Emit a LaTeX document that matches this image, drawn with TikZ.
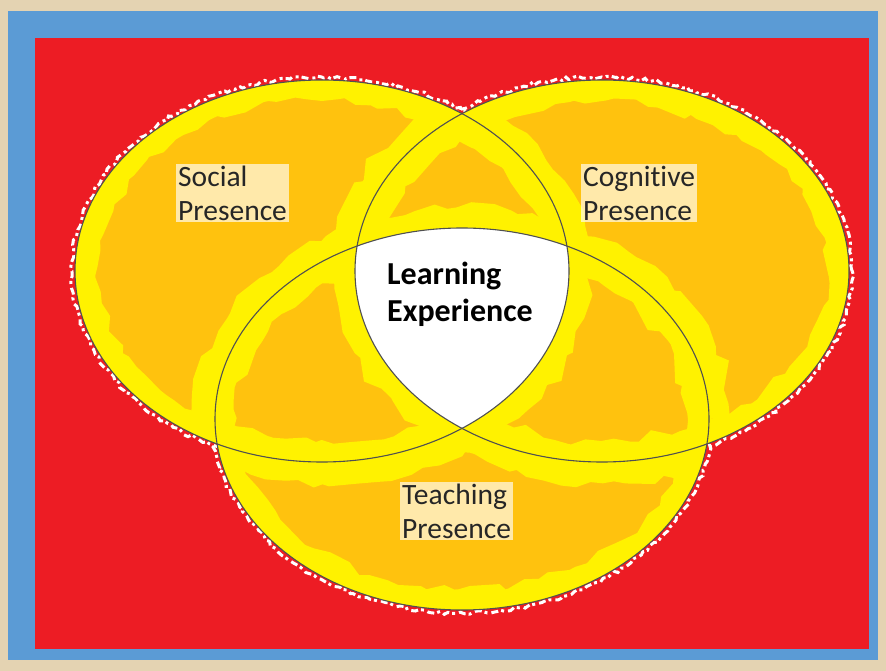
\documentclass[tikz,border=0pt]{standalone}
\usepackage{fontspec}
\setmainfont{Carlito}[Ligatures=NoCommon]
\usetikzlibrary{decorations.pathmorphing}
\definecolor{parch}{RGB}{228,211,178}
\definecolor{frameblue}{RGB}{91,155,213}
\definecolor{bgred}{RGB}{237,28,36}
\definecolor{vyellow}{RGB}{255,242,0}
\definecolor{vorange}{RGB}{255,194,14}
\definecolor{outl}{RGB}{80,80,80}
\tikzset{
  outline/.style={draw=outl, line width=1.1pt},
  speck/.style={draw=white, line width=3pt, decorate,
    decoration={random steps, segment length=4pt, amplitude=1.8pt},
    dash pattern=on 7pt off 3pt on 3pt off 4pt},
  band/.style={draw=vyellow, line width=42pt, decorate,
    decoration={random steps, segment length=14pt, amplitude=5pt}},
  lab/.style={align=left, font=\fontsize{29.5}{34}\selectfont, text=black!85,
    fill=white, fill opacity=0.65, text opacity=1, inner sep=2pt},
  labb/.style={align=left, font=\bfseries\fontsize{32}{37}\selectfont, text=black, inner sep=1pt}
}
\begin{document}
\begin{tikzpicture}[x=1pt,y=-1pt]
\useasboundingbox (0,0) rectangle (886,671);
\fill[parch] (0,0) rectangle (886,671);
\fill[frameblue] (8,11) rectangle (878,660);
\fill[bgred] (35,38) rectangle (869,649);
\coordinate (cS) at (322,271);
\coordinate (cC) at (602,271);
\coordinate (cT) at (462,419);
% white specks just outside the circles
\path[speck] (cS) ellipse [x radius=250pt, y radius=194pt];
\path[speck] (cC) ellipse [x radius=250pt, y radius=194pt];
\path[speck] (cT) ellipse [x radius=250pt, y radius=194pt];
% orange fill
\fill[vorange] (cS) ellipse [x radius=247pt, y radius=191pt]
               (cC) ellipse [x radius=247pt, y radius=191pt]
               (cT) ellipse [x radius=247pt, y radius=191pt];
% yellow bands along all boundaries
\begin{scope}
  \clip (cS) ellipse [x radius=247pt, y radius=191pt]
        (cC) ellipse [x radius=247pt, y radius=191pt]
        (cT) ellipse [x radius=247pt, y radius=191pt];
  \path[band] (cS) ellipse [x radius=247pt, y radius=191pt];
  \path[band] (cC) ellipse [x radius=247pt, y radius=191pt];
  \path[band] (cT) ellipse [x radius=247pt, y radius=191pt];
\end{scope}
% white centre
\begin{scope}
  \clip (cS) ellipse [x radius=247pt, y radius=191pt];
  \clip (cC) ellipse [x radius=247pt, y radius=191pt];
  \fill[white] (cT) ellipse [x radius=247pt, y radius=191pt];
\end{scope}
% outlines
\draw[outline] (cS) ellipse [x radius=247pt, y radius=191pt];
\draw[outline] (cC) ellipse [x radius=247pt, y radius=191pt];
\draw[outline] (cT) ellipse [x radius=247pt, y radius=191pt];
% labels
\node[lab, anchor=west] (soc) at (176,193) {Social\\Presence};
\node[lab, anchor=west] (cog) at (581,193) {Cognitive\\Presence};
\node[lab, anchor=west] (tea) at (400,511) {Teaching\\Presence};
\node[labb, anchor=west] (lex) at (386,294) {Learning\\Experience};
\end{tikzpicture}
\end{document}
